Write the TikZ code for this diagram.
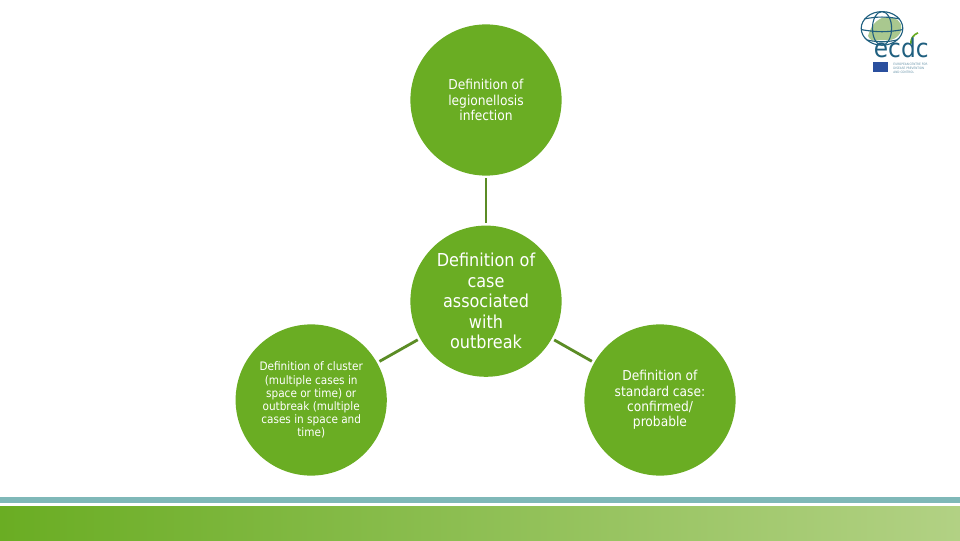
\documentclass[tikz,border=0pt]{standalone}
\usepackage{fontspec}
\setmainfont{DejaVu Sans Condensed}
\definecolor{ecdcgreen}{HTML}{6AAD23}
\definecolor{linegreen}{HTML}{5B8C25}
\definecolor{barteal}{HTML}{7FB8B8}
\definecolor{barlight}{HTML}{B2D184}
\definecolor{globeblue}{HTML}{1F5F7F}
\definecolor{landgreen}{HTML}{A9C88F}
\definecolor{flagblue}{HTML}{2A4F9E}
\tikzset{
  bigcircle/.style={circle,fill=ecdcgreen,minimum size=3.78cm,inner sep=0pt,outer sep=2pt,align=center,text=white},
  smalltext/.style={font=\fontsize{8.3pt}{9.3pt}\selectfont},
  midtext/.style={font=\fontsize{9.7pt}{10.9pt}\selectfont},
  largetext/.style={font=\fontsize{12.7pt}{14.6pt}\selectfont},
  linkline/.style={line width=2pt,color=linegreen},
  gridline/.style={line width=0.8pt,color=globeblue}
}
\begin{document}
\begin{tikzpicture}
\useasboundingbox (0,0) rectangle (24,13.5);
% bottom bars
\fill[barteal](0,0.93)rectangle(24,1.08);
\fill[left color=ecdcgreen,right color=barlight](0,0)rectangle(24,0.85);
% circles
\node[bigcircle,midtext] (infection) at (12.15,11) {Definition of\\legionellosis\\infection};
\node[bigcircle,largetext] (outbreak) at (12.15,5.97) {Definition of\\case\\associated\\with\\outbreak};
\node[bigcircle,smalltext] (cluster) at (7.78,3.5) {Definition of cluster\\(multiple cases in\\space or time) or\\outbreak (multiple\\cases in space and\\time)};
\node[bigcircle,midtext] (standard) at (16.5,3.5) {Definition of\\standard case:\\confirmed/\\probable};
% links
\draw[linkline](infection)--(outbreak);
\draw[linkline](outbreak)--(cluster);
\draw[linkline](outbreak)--(standard);
% logo
\fill[landgreen](21.7,12.6)..controls(21.85,13.15)and(22.35,13.2)..(22.52,12.9)..controls(22.6,12.6)and(22.3,12.45)..(22.1,12.5)..controls(21.95,12.52)and(21.8,12.4)..(21.7,12.6);
\draw[gridline](22.05,12.79)ellipse(0.52 and 0.42);
\draw[gridline](22.05,12.79)ellipse(0.24 and 0.42);
\draw[gridline](21.62,13.03)to[bend left=10](22.48,13.03);
\draw[gridline](21.53,12.76)to[bend right=10](22.57,12.76);
\draw[gridline](21.68,12.5)to[bend right=12](22.42,12.5);
\draw[line width=1.2pt,color=ecdcgreen](22.77,12.4)to[bend left=35](22.95,12.68);
\node[inner sep=0pt,text=globeblue,font=\fontsize{18.4pt}{18.4pt}\selectfont] (ecdc) at (22.53,12.31) {ecdc};
\fill[flagblue](21.83,11.7)rectangle(22.21,11.95);
\node[inner sep=0pt,align=left,text=globeblue!70,font=\fontsize{2.2pt}{2.6pt}\selectfont,anchor=west] (agency) at (22.33,11.79) {EUROPEAN CENTRE FOR\\DISEASE PREVENTION\\AND CONTROL};
\end{tikzpicture}
\end{document}
